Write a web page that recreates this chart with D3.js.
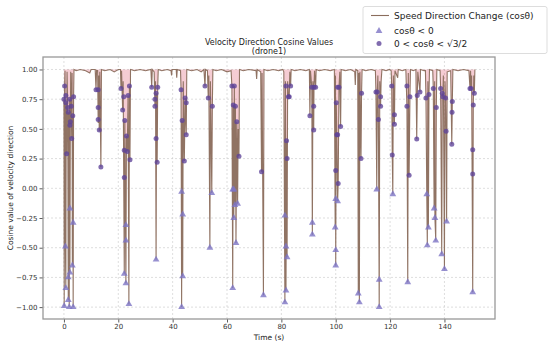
<!DOCTYPE html>
<meta charset="utf-8">
<head>
<title>Velocity Direction Cosine Values</title>
<script src="https://cdn.jsdelivr.net/npm/d3@7"></script>
<style>
body { margin: 0; background: #fff; }
text { font-family: 'DejaVu Sans', sans-serif; fill: #222; }
.grid line { stroke: #c8c8c8; stroke-width: 0.6; stroke-dasharray: 2,2; }
.axis path { display: none; }
.axis line { stroke: #333; stroke-width: 0.8; }
.axis text { font-size: 7px; fill: #333; }
</style>
</head>
<body>
<svg id="chart" width="550" height="349"></svg>
<script>
// speed direction change series (time, cos value)
var lineT = [0,0.1,0.25,0.4,0.55,0.7,0.85,1.0,1.15,1.4,1.6,1.75,1.95,2.1,2.2,2.35,2.5,2.7,2.85,3.0,3.1,3.25,3.4,3.55,3.7,
  4.5,6,8,9.5,10,11.5,
  11.8,12.0,12.4,12.6,12.8,13.0,13.2,13.6,13.8,
  15,17,18.5,20,20.8,
  21.0,21.2,21.6,21.8,22.2,22.4,22.8,23.0,23.3,23.6,23.9,24.1,24.3,24.5,
  26,28,30,32,
  32.3,32.5,33.2,33.5,33.7,33.9,34.1,34.3,34.5,34.7,
  36,38,39.4,39.6,39.8,41.3,41.5,41.7,42.9,
  43.1,43.3,43.5,43.7,43.9,44.3,44.6,45.0,45.2,
  47,49,50.5,51.5,
  51.9,52.1,52.8,53.1,53.3,53.7,53.9,54.4,54.6,54.8,
  56,58,60,61.5,
  61.8,62.1,62.3,62.5,62.7,62.9,63.1,63.3,63.6,63.9,64.1,64.4,64.6,
  66,68,70.7,70.9,71.1,72.4,
  72.7,72.9,73.4,73.6,
  75,77,79,80.5,
  80.9,81.3,81.5,81.7,81.9,82.1,82.3,82.6,82.9,83.1,83.4,83.6,
  85,87,89,90.3,
  90.5,90.7,91.2,91.4,91.6,91.9,92.0,92.2,92.6,92.8,
  94,96,98,99.5,
  99.8,99.9,100.0,100.2,100.4,100.7,100.9,101.2,101.5,101.8,102.0,
  103.5,105.5,107.0,107.2,107.4,108.1,
  108.3,108.5,108.7,108.9,109.3,109.5,109.7,
  111,113,114.6,
  114.8,115.1,115.3,115.5,115.7,116.0,116.2,116.5,116.7,117.0,
  118.5,119.8,
  120.4,120.6,120.8,121.0,121.2,121.6,121.8,122.8,123.0,
  124.5,125.8,
  126.2,126.5,126.7,127.0,127.3,127.5,
  128.5,129.5,
  129.8,130.0,130.2,131.0,131.2,
  132.5,
  133.0,133.2,133.5,133.7,133.9,134.1,134.3,134.5,
  135.7,135.9,136.2,136.4,136.5,136.8,137.0,137.2,
  138.4,138.6,139.0,139.2,139.4,139.6,140.0,140.2,140.4,140.6,140.8,141.0,
  142.3,142.7,142.9,143.1,
  145,147,149,
  149.4,149.6,149.8,150.0,150.4,150.6,150.8,151.0,151.2];
var lineV = [0.75,-0.99,0.86,0.99,-0.49,-0.84,0.72,0.29,0.98,0.68,-0.94,0.64,-1.0,0.75,-0.71,0.53,0.98,0.69,0.42,0.97,-0.65,0.61,-1.0,0.77,1.0,
  0.99,1.0,0.99,0.97,1.0,1.0,
  0.83,0.99,0.99,0.55,0.95,0.48,0.98,0.18,1.0,
  0.99,1.0,0.98,1.0,1.0,
  0.84,0.99,0.66,0.9,-0.72,0.57,-0.80,0.44,0.31,0.78,-0.975,0.86,0.24,1.0,
  0.99,1.0,0.99,1.0,
  0.85,1.0,0.98,0.69,0.9,-0.60,0.8,0.22,0.85,1.0,
  0.99,1.0,0.99,0.95,1.0,1.0,0.93,1.0,0.99,
  0.83,-1.0,0.57,-0.74,0.9,0.23,0.76,0.45,1.0,
  0.99,1.0,0.98,1.0,
  0.86,1.0,0.99,0.76,0.95,-0.5,0.9,-0.04,0.69,1.0,
  0.99,1.0,0.98,0.99,
  0.86,-0.84,0.70,-0.25,0.86,-0.14,0.69,-0.46,0.56,-0.13,0.5,0.27,1.0,
  0.99,1.0,0.99,0.92,1.0,0.98,
  0.14,0.97,-0.90,1.0,
  0.99,1.0,0.99,1.0,
  0.98,-0.96,0.9,-0.86,0.40,-0.58,0.9,0.77,0.77,0.98,0.86,1.0,
  0.99,1.0,0.99,1.0,
  0.61,0.99,0.85,-0.39,0.9,0.49,0.85,0.99,0.85,1.0,
  0.99,1.0,0.99,1.0,
  -0.33,0.95,-0.65,0.72,0.45,-0.11,0.04,0.85,0.98,0.52,1.0,
  0.99,1.0,0.98,0.87,1.0,0.99,
  -0.885,0.97,-0.96,0.98,0.25,0.80,1.0,
  0.99,1.0,0.99,
  0.81,-0.01,0.81,0.95,0.58,-1.0,0.9,0.69,0.9,1.0,
  0.99,1.0,
  0.99,0.86,0.28,-0.05,0.95,0.54,0.99,0.93,1.0,
  0.99,1.0,
  0.69,-0.79,0.97,0.11,0.77,1.0,
  0.99,1.0,
  0.415,0.78,0.98,0.81,1.0,
  0.99,
  0.99,0.76,-0.05,-0.48,0.9,-0.33,0.79,1.0,
  0.99,0.84,-0.17,0.9,-0.25,-0.44,0.68,1.0,
  0.99,0.84,-0.555,0.8,0.77,0.95,-0.68,0.9,0.76,0.48,-0.28,0.98,
  0.99,0.37,0.73,1.0,
  0.99,1.0,0.99,
  0.84,0.99,0.84,0.95,-0.875,0.7,0.95,0.8,1.0];

// cos < 0 points
var negT = [0.1,0.55,0.7,1.6,1.6,1.95,2.2,2.2,3.1,3.4,3.4,
  22.2,22.8,23.9,22.8,22.8, 33.9, 43.3,43.7,43.7,43.3, 53.7,54.4,
  62.1,62.1,62.5,62.5,62.9,63.3,63.9, 73.4,
  81.3,81.7,81.7,82.1,81.3, 91.4,91.4, 100.0,100.0,99.8,100.0,100.7,
  108.3,108.7, 115.1,116.0,116.0, 121.0, 126.5, 133.5,133.7,134.1,
  136.2,136.5,136.8, 139.0,140.0,140.8, 150.4];
var negV = [-0.99,-0.49,-0.84,-0.94,-0.75,-1.0,-0.71,-0.17,-0.65,-1.0,-0.29,
  -0.72,-0.80,-0.975,-0.44,-0.31, -0.60, -1.0,-0.74,-0.22,-0.03, -0.5,-0.04,
  -0.84,-0.01,-0.01,-0.25,-0.14,-0.46,-0.13, -0.90,
  -0.96,-0.86,-0.49,-0.58,-0.23, -0.39,-0.29, -0.65,-0.52,-0.33,-0.09,-0.11,
  -0.885,-0.96, -0.01,-0.77,-1.0, -0.05, -0.79, -0.05,-0.48,-0.33,
  -0.17,-0.25,-0.44, -0.555,-0.68,-0.28, -0.875];

// 0 < cos < sqrt(3)/2 points
var midT = [0,0.25,0.7,0.7,1.0,1.4,1.6,2.1,2.35,2.2,2.85,2.7,3.25,3.55,
  11.8,12.6,12.6,12.6,13.0,13.6,
  21.0,21.6,22.0,22.4,23.0,22.2,23.3,23.6,24.1,24.3,22.2,
  32.3,34.5,33.5,33.5,33.9,33.9,34.3,
  43.1,43.5,44.3,44.6,45.0,45.0,
  51.9,53.1,54.6,
  61.8,62.7,62.3,63.1,63.6,64.4,
  72.7,
  81.7,83.4,82.6,82.9,81.9,82.1,
  90.5,91.2,92.0,92.6,91.9,91.9,
  100.7,101.2,100.2,101.8,100.4,100.7,100.0,100.9,
  109.5,109.3,
  114.8,115.3,116.5,116.5,115.7,
  120.6,121.6,121.6,120.8,
  126.2,127.3,126.2,127.0,
  129.8,130.0,131.0,
  133.2,134.3,
  135.9,137.0,
  138.6,139.2,139.4,140.4,140.6,
  142.9,142.8,142.7,
  149.4,149.8,151.0,150.6,150.4,150.4];
var midV = [0.75,0.86,0.78,0.72,0.29,0.68,0.64,0.75,0.56,0.53,0.42,0.69,0.61,0.77,
  0.83,0.83,0.68,0.58,0.49,0.18,
  0.84,0.66,0.77,0.57,0.44,0.32,0.31,0.78,0.86,0.24,0.09,
  0.85,0.85,0.75,0.69,0.80,0.42,0.22,
  0.83,0.57,0.23,0.76,0.72,0.45,
  0.86,0.76,0.69,
  0.86,0.86,0.70,0.69,0.56,0.27,
  0.14,
  0.86,0.86,0.77,0.77,0.40,0.25,
  0.61,0.85,0.85,0.85,0.69,0.49,
  0.85,0.85,0.72,0.52,0.45,0.45,0.15,0.04,
  0.80,0.25,
  0.81,0.81,0.77,0.69,0.58,
  0.86,0.62,0.54,0.28,
  0.86,0.77,0.69,0.11,
  0.415,0.78,0.81,
  0.76,0.79,
  0.84,0.68,
  0.84,0.80,0.77,0.76,0.48,
  0.73,0.64,0.37,
  0.84,0.84,0.80,0.70,0.325,0.12];

var xTicks = [0,20,40,60,80,100,120,140];
var yTicks = [-1,-0.75,-0.5,-0.25,0,0.25,0.5,0.75,1];

var svg = d3.select("#chart");
var pL = 43, pR = 495, pT = 57, pB = 319;

var x = d3.scaleLinear().domain([-7.7, 158.6]).range([pL, pR]);
var y = d3.scaleLinear().domain([-1.1, 1.105]).range([pB, pT]);

svg.append("defs").append("clipPath").attr("id", "clip")
  .append("rect").attr("x", pL).attr("y", pT).attr("width", pR - pL).attr("height", pB - pT);

// grid
svg.append("g").attr("class", "grid")
  .selectAll("line").data(yTicks).enter().append("line")
  .attr("x1", pL).attr("x2", pR)
  .attr("y1", function(d){ return y(d); }).attr("y2", function(d){ return y(d); });
svg.append("g").attr("class", "grid")
  .selectAll("line").data(xTicks).enter().append("line")
  .attr("y1", pT).attr("y2", pB)
  .attr("x1", function(d){ return x(d); }).attr("x2", function(d){ return x(d); });

var pts = lineT.map(function(t, i){ return [t, lineV[i]]; });
var plot = svg.append("g").attr("clip-path", "url(#clip)");

// red shading between the curve and 1
plot.append("path").datum(pts)
  .attr("fill", "#d42a45").attr("fill-opacity", 0.24)
  .attr("d", d3.area().x(function(d){ return x(d[0]); }).y0(y(1)).y1(function(d){ return y(d[1]); }));

plot.append("path").datum(pts)
  .attr("fill", "none").attr("stroke", "#8a6d5c").attr("stroke-width", 1.1).attr("stroke-opacity", 0.95)
  .attr("d", d3.line().x(function(d){ return x(d[0]); }).y(function(d){ return y(d[1]); }));

var tri = d3.symbol().type(d3.symbolTriangle).size(20);
plot.selectAll("path.neg").data(negT).enter().append("path")
  .attr("class", "neg")
  .attr("d", tri)
  .attr("transform", function(d, i){ return "translate(" + x(d) + "," + y(negV[i]) + ")"; })
  .attr("fill", "#7d74c4").attr("fill-opacity", 0.8);

plot.selectAll("circle.mid").data(midT).enter().append("circle")
  .attr("class", "mid")
  .attr("cx", function(d){ return x(d); })
  .attr("cy", function(d, i){ return y(midV[i]); })
  .attr("r", 2.5)
  .attr("fill", "#5d4398").attr("fill-opacity", 0.78);

// axes
var fmt = d3.format(".2f");
svg.append("g").attr("class", "axis")
  .attr("transform", "translate(0," + pB + ")")
  .call(d3.axisBottom(x).tickValues(xTicks).tickSize(3.5).tickPadding(2).tickFormat(d3.format("d")));
svg.append("g").attr("class", "axis")
  .attr("transform", "translate(" + pL + ",0)")
  .call(d3.axisLeft(y).tickValues(yTicks).tickSize(3.5).tickPadding(2)
    .tickFormat(function(d){ return fmt(d).replace("-", "\u2212"); }));

svg.append("rect").attr("x", pL).attr("y", pT).attr("width", pR - pL).attr("height", pB - pT)
  .attr("fill", "none").attr("stroke", "#999").attr("stroke-width", 1.3);

// titles
svg.append("text").attr("x", (pL + pR) / 2).attr("y", 45).attr("text-anchor", "middle")
  .style("font-size", "8px").text("Velocity Direction Cosine Values");
svg.append("text").attr("x", (pL + pR) / 2).attr("y", 53.5).attr("text-anchor", "middle")
  .style("font-size", "8px").text("(drone1)");
svg.append("text").attr("x", (pL + pR) / 2).attr("y", 340).attr("text-anchor", "middle")
  .style("font-size", "7.5px").text("Time (s)");
svg.append("text").attr("transform", "translate(12.5," + ((pT + pB) / 2) + ") rotate(-90)")
  .attr("text-anchor", "middle").style("font-size", "7.5px").text("Cosine value of velocity direction");

// legend
var lg = svg.append("g");
lg.append("rect").attr("x", 363).attr("y", 6.5).attr("width", 184).attr("height", 47).attr("rx", 2)
  .attr("fill", "#fff").attr("fill-opacity", 0.85).attr("stroke", "#d4d4d4").attr("stroke-width", 0.8);
lg.append("line").attr("x1", 371).attr("x2", 389).attr("y1", 15.5).attr("y2", 15.5)
  .attr("stroke", "#8a6d5c").attr("stroke-width", 1.1);
lg.append("path").attr("d", tri).attr("transform", "translate(379,31)")
  .attr("fill", "#7d74c4").attr("fill-opacity", 0.8);
lg.append("circle").attr("cx", 379).attr("cy", 43.5).attr("r", 2.5)
  .attr("fill", "#5d4398").attr("fill-opacity", 0.78);
var labels = ["Speed Direction Change (cos\u03b8)", "cos\u03b8 < 0", "0 < cos\u03b8 < \u221a3/2"];
var rows = [15.5, 30.5, 43.5];
lg.selectAll("text").data(labels).enter().append("text")
  .attr("x", 394).attr("y", function(d, i){ return rows[i] + 3.2; })
  .style("font-size", "9px").text(function(d){ return d; });
</script>
</body>
